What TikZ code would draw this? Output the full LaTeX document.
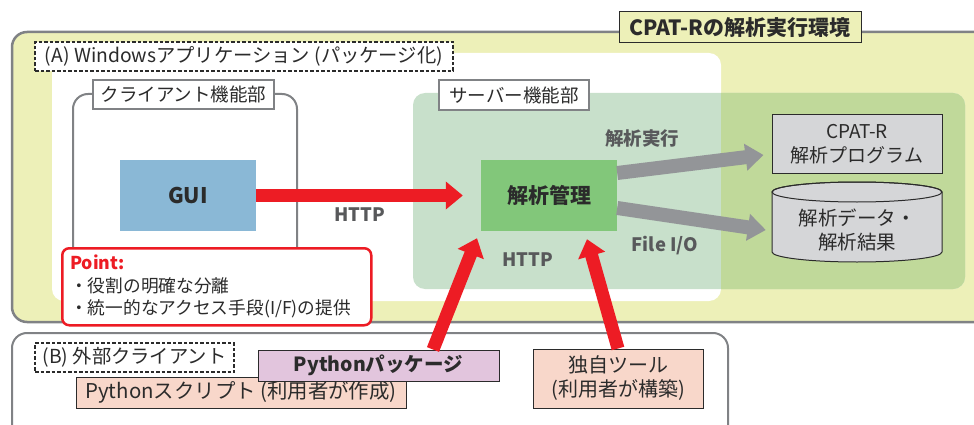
\documentclass[tikz,border=0pt]{standalone}
\usepackage{fontspec}
\setmainfont{Noto Sans CJK JP}
\usetikzlibrary{arrows.meta}
\definecolor{ylw}{HTML}{EDF0B8}
\definecolor{bgray}{HTML}{808285}
\definecolor{srvL}{HTML}{C8E0CB}
\definecolor{srvR}{HTML}{C0D99A}
\definecolor{mgmtc}{HTML}{82C77A}
\definecolor{guiblue}{HTML}{8AB8D6}
\definecolor{arrgray}{HTML}{939598}
\definecolor{ptred}{HTML}{ED1C24}
\definecolor{lgray}{HTML}{D5D6D8}
\definecolor{pkgc}{HTML}{E2C5DD}
\definecolor{salmon}{HTML}{F8D7CA}
\definecolor{txtgray}{HTML}{58595B}
\definecolor{txt}{HTML}{2B2B2B}
\newcommand{\myfs}[1]{\fontsize{#1}{#1}\selectfont}
\begin{document}
\begin{tikzpicture}[x=1pt,y=-1pt,
  every node/.style={text=txt},
  lblbox/.style={draw=bgray, line width=2.3pt, fill=white, inner sep=0pt, font=\myfs{18.5}},
  dlbl/.style={draw=txt, dash pattern=on 3.5pt off 2pt, line width=1.1pt, fill=white, inner sep=0pt, font=\myfs{19.3}},
  solidbox/.style={draw=txt, line width=1pt, inner sep=0pt},
  redarrow/.style={draw=ptred, line width=13pt, -{Triangle[width=27pt,length=17pt]}},
  grayarrow/.style={draw=arrgray, line width=14pt, -{Triangle[width=26pt,length=18pt]}},
  glbl/.style={text=txtgray, font=\bfseries\myfs{18.5}},
]
\clip (0,0) rectangle (974,425);
% outer yellow region
\draw[fill=ylw, draw=bgray, line width=2.5pt, rounded corners=15pt] (12,32) rectangle (1010,322);
% white region
\fill[white, rounded corners=12pt] (52,53) rectangle (721,301);
% client box
\draw[bgray, line width=2pt, rounded corners=15pt] (73,94) rectangle (297,290);
% server region
\fill[srvL, rounded corners=12pt] (413,93) rectangle (965,289);
\begin{scope}
  \clip (721,80) rectangle (974,300);
  \fill[srvR, rounded corners=12pt] (413,93) rectangle (965,289);
\end{scope}
% bottom region (B)
\draw[bgray, line width=2pt, rounded corners=15pt] (12,333) rectangle (728,445);

% title
\node[solidbox, fill=ylw, minimum width=242pt, minimum height=31pt, font=\bfseries\myfs{21}] (title) at (740,27.5) {CPAT-Rの解析実行環境};
% (A) label
\node[dlbl, minimum width=418pt, minimum height=29pt] (labA) at (244,56.5) {(A) Windowsアプリケーション (パッケージ化)};
% client / server labels
\node[lblbox, minimum width=181pt, minimum height=29pt] (labC) at (183.5,94.5) {クライアント機能部};
\node[lblbox, minimum width=150pt, minimum height=30pt] (labS) at (514,95) {サーバー機能部};

% GUI and management
\node[fill=guiblue, minimum width=136pt, minimum height=71pt, inner sep=0pt, font=\bfseries\myfs{21.5}] (gui) at (188,195.5) {GUI};
\node[fill=mgmtc, minimum width=136pt, minimum height=71pt, inner sep=0pt, font=\bfseries\myfs{21}] (mgmt) at (549,195.5) {解析管理};

% CPAT-R program
\node[solidbox, fill=lgray, minimum width=170pt, minimum height=58pt, align=center, font=\fontsize{19}{24}\selectfont] (prog) at (857,144) {CPAT-R\\解析プログラム};
% cylinder
\draw[fill=lgray, draw=txt, line width=1pt] (772,192) -- (772,252) arc[start angle=180, end angle=0, x radius=85, y radius=10] -- (942,192) arc[start angle=0, end angle=-180, x radius=85, y radius=10] -- cycle;
\draw[draw=txt, line width=1pt] (857,192) ellipse [x radius=85, y radius=10];
\node[minimum width=170pt, minimum height=64pt, inner sep=0pt, align=center, font=\fontsize{19.5}{24}\selectfont] (data) at (857,230) {解析データ・\\解析結果};

% Point box
\node[draw=ptred, line width=2.5pt, fill=white, rounded corners=7pt, anchor=north west, minimum width=309pt, minimum height=77pt, text width=293pt, inner xsep=8pt, inner ysep=0pt, align=left, font=\fontsize{17.7}{22.5}\selectfont] (point) at (61,247) {\textcolor{ptred}{\bfseries Point:}\\・役割の明確な分離\\・統一的なアクセス手段(I/F)の提供};

% (B) items
\node[dlbl, minimum width=199pt, minimum height=29pt] (labB) at (134.5,357.5) {(B) 外部クライアント};
\node[solidbox, fill=salmon, minimum width=330pt, minimum height=31pt, font=\myfs{20.4}] (script) at (241,392.5) {Pythonスクリプト (利用者が作成)};
\node[solidbox, fill=pkgc, minimum width=241pt, minimum height=31pt, font=\bfseries\myfs{19.5}] (pkg) at (378.5,365.5) {Pythonパッケージ};
\node[solidbox, fill=salmon, minimum width=170pt, minimum height=59pt, align=center, font=\fontsize{20}{24}\selectfont] (tool) at (618,378.5) {独自ツール\\(利用者が構築)};

% arrows
\draw[redarrow] (gui.east) -- ([xshift=-18pt]mgmt.west);
\draw[grayarrow] ([yshift=22.5pt]mgmt.east) -- ([xshift=-8pt,yshift=-11pt]prog.west);
\draw[grayarrow] ([yshift=-12.5pt]mgmt.east) -- ([xshift=-6pt]data.west);
\draw[redarrow] ([xshift=54.5pt]pkg.north) -- ([xshift=-72pt,yshift=-7pt]mgmt.south);
\draw[redarrow] (tool.north) -- ([xshift=38pt,yshift=-8pt]mgmt.south);

% arrow labels
\node[glbl] (lhttp1) at (360,215) {HTTP};
\node[glbl] (lhttp2) at (528,260) {HTTP};
\node[glbl] (lexec) at (642,138) {解析実行};
\node[glbl] (lfile) at (665,246) {File I/O};
\end{tikzpicture}
\end{document}
